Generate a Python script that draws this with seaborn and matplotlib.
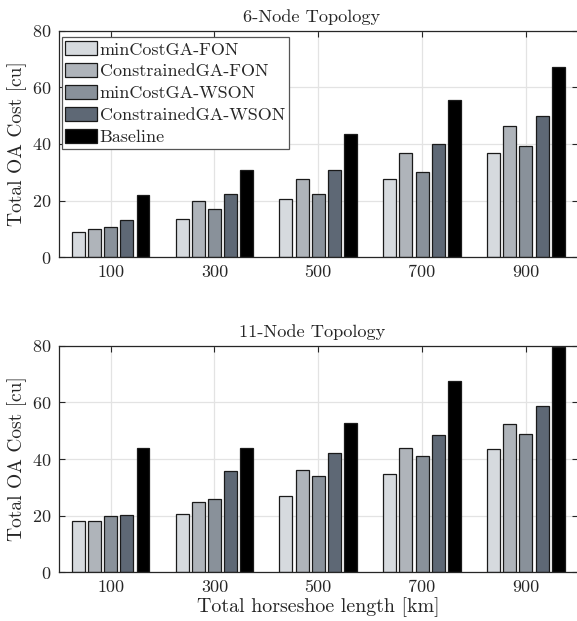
import matplotlib
matplotlib.use("Agg")
import matplotlib.pyplot as plt
import seaborn as sns
import pandas as pd

lengths = ["100", "300", "500", "700", "900"]
methods = ["minCostGA-FON", "ConstrainedGA-FON", "minCostGA-WSON",
           "ConstrainedGA-WSON", "Baseline"]

node6_minCostFON = [8.8, 13.5, 20.5, 27.5, 36.7]
node6_constrFON = [9.9, 19.8, 27.8, 36.7, 46.5]
node6_minCostWSON = [10.7, 17.1, 22.5, 30.0, 39.3]
node6_constrWSON = [13.1, 22.4, 30.8, 39.9, 49.8]
node6_baseline = [22.1, 30.7, 43.4, 55.6, 67.2]

node11_minCostFON = [18.0, 20.6, 26.9, 34.8, 43.6]
node11_constrFON = [18.0, 24.9, 36.1, 43.8, 52.5]
node11_minCostWSON = [19.9, 26.1, 34.1, 41.0, 48.8]
node11_constrWSON = [20.2, 35.7, 42.1, 48.6, 58.7]
node11_baseline = [44.0, 44.0, 52.7, 67.6, 79.4]

titles = ["6-Node Topology", "11-Node Topology"]
ylabel = "Total OA Cost [cu]"
xlabel = "Total horseshoe length [km]"
colors = ["#d5dadf", "#adb4bc", "#86919d", "#5a6879", "#000000"]


def make_df(series):
    rows = []
    for m, vals in zip(methods, series):
        for L, v in zip(lengths, vals):
            rows.append({"length": L, "method": m, "cost": v})
    return pd.DataFrame(rows)


df6 = make_df([node6_minCostFON, node6_constrFON, node6_minCostWSON,
               node6_constrWSON, node6_baseline])
df11 = make_df([node11_minCostFON, node11_constrFON, node11_minCostWSON,
                node11_constrWSON, node11_baseline])

sns.set_style("white")
plt.rcParams["font.family"] = ["cmr10", "DejaVu Serif"]
plt.rcParams["axes.formatter.use_mathtext"] = True
plt.rcParams["mathtext.fontset"] = "cm"

fig = plt.figure(figsize=(5.77, 6.21), dpi=100)
ax1 = fig.add_axes([0.1017, 0.5857, 0.8997, 0.3649])
ax2 = fig.add_axes([0.1017, 0.0781, 0.8997, 0.3652])

for ax, df, title in [(ax1, df6, titles[0]), (ax2, df11, titles[1])]:
    sns.barplot(data=df, x="length", y="cost", hue="method", hue_order=methods,
                order=lengths, palette=colors, width=0.78, gap=0.2,
                edgecolor="#1a1a1a", linewidth=0.9, ax=ax, legend=(ax is ax1))
    ax.set_ylim(0, 80)
    ax.set_xlim(-0.5, 4.5)
    ax.set_yticks([0, 20, 40, 60, 80])
    ax.set_axisbelow(True)
    ax.grid(True, color="#e3e3e3", linewidth=0.9)
    for s in ax.spines.values():
        s.set_visible(True)
        s.set_color("#262626")
        s.set_linewidth(0.9)
    ax.tick_params(direction="in", length=4, width=0.8, color="#262626",
                   top=True, right=True, bottom=True, left=True,
                   labelsize=13, pad=5)
    ax.set_title(title, fontsize=13.2, pad=6.5, x=0.488)
    ax.set_ylabel(ylabel, fontsize=14, labelpad=4)
    ax.set_xlabel("")

ax2.set_xlabel(xlabel, fontsize=14.4, labelpad=2)

leg = ax1.legend(loc="upper left", bbox_to_anchor=(0.006, 0.97),
                 fontsize=13, frameon=True, fancybox=False, framealpha=1,
                 edgecolor="#555555", handlelength=1.75, handleheight=0.85,
                 handletextpad=0.15, labelspacing=0.3, borderpad=0.2,
                 borderaxespad=0.0)
leg.get_frame().set_linewidth(0.9)

fig.savefig("out.png", dpi=100)
